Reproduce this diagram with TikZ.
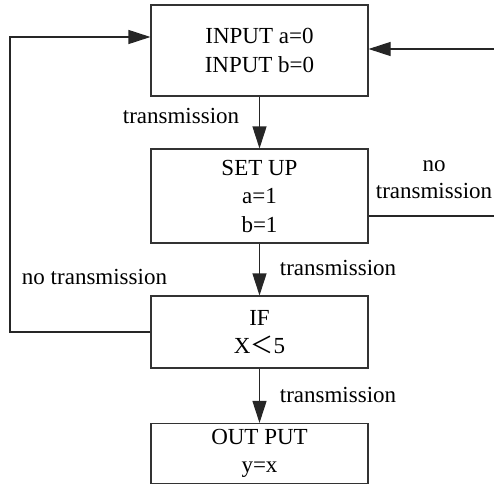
\documentclass[tikz,border=0pt]{standalone}
\usepackage{fontspec}
\setmainfont{Liberation Serif}
\newfontfamily\cjk{Noto Sans CJK SC}
\usetikzlibrary{arrows.meta}
\begin{document}
\begin{tikzpicture}[x=1pt,y=-1pt,
  box/.style={draw=black!80,line width=1.1pt,minimum width=217pt,align=center,inner sep=0pt,text=black,font=\fontsize{23}{28.5}\selectfont},
  lbl/.style={text=black,font=\fontsize{23}{25}\selectfont,inner sep=0pt,align=center},
  conn/.style={draw=black!85,line width=1.1pt},
  arr/.style={conn,-{Triangle[length=22pt,width=14pt]}}]
\useasboundingbox (0,0) rectangle (494,484);
\node[box,minimum height=91pt] (b1) at (259.5,50.5) {INPUT a=0\\INPUT b=0};
\node[box,minimum height=94pt] (b2) at (259.5,196) {SET UP\\a=1\\b=1};
\node[box,minimum height=72pt] (b3) at (259.5,332) {IF\\X{\cjk＜}5};
\node[box,minimum height=60pt] (b4) at (259.5,453.5) {OUT PUT\\y=x};
\coordinate (r1) at (494,49);
\coordinate (r2) at (494,216);
\coordinate (l1) at (10,332);
\coordinate (l2) at (10,37);
\draw[arr] (b1.south) -- (b2.north);
\draw[arr] (b2.south) -- (b3.north);
\draw[arr] (b3.south) -- (b4.north);
\draw[arr] (r1) -- (b1.east |- r1);
\draw[conn] (b2.east |- r2) -- (r2);
\draw[arr] (b3.west |- l1) -- (l1) -- (l2) -- (b1.west |- l2);
\node[lbl] (t1) at (181,116) {transmission};
\node[lbl] (t2) at (338,268) {transmission};
\node[lbl] (t3) at (338,395) {transmission};
\node[lbl] (n1) at (94.5,277) {no transmission};
\node[lbl] (n2) at (434,180) {no\\[2pt]transmission};
\end{tikzpicture}
\end{document}
